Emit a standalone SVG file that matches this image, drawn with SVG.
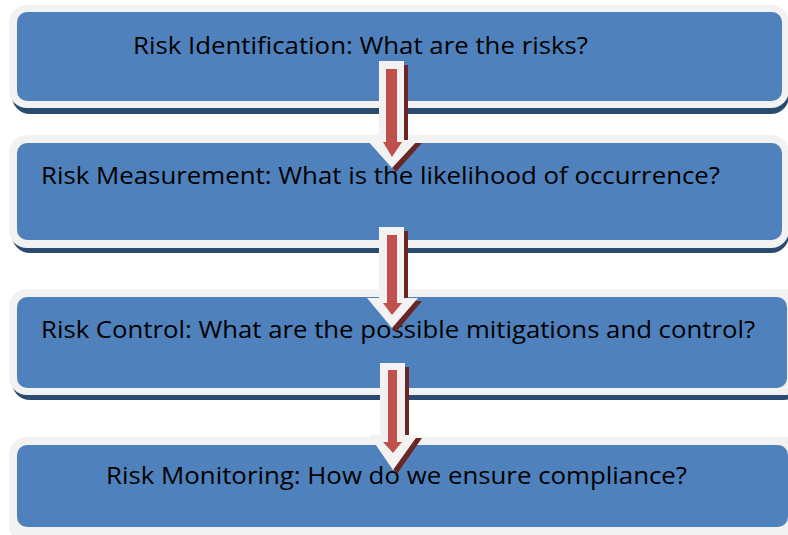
<svg xmlns="http://www.w3.org/2000/svg" width="788" height="535" viewBox="0 0 788 535">
<style>
.sh{fill:#2b4a70}
.ring{fill:#f2f2f2}
.body{fill:#4f81bd}
.lbl{font-family:"Open Sans","Noto Sans","Liberation Sans",sans-serif;font-size:24px;fill:#000}
.aw{fill:#f2f2f2}
.ar{fill:#c0504d}
.ad{fill:#6a2624}
</style>
<rect width="788" height="535" fill="#fff"/>
<g id="node1">
<rect class="sh" x="12" y="11" width="777" height="103" rx="18"/>
<rect class="ring" x="9" y="5" width="780" height="103" rx="18"/>
<rect class="body" x="17" y="12" width="765" height="89" rx="10"/>
<text class="lbl" x="133" y="54" textLength="455" lengthAdjust="spacingAndGlyphs">Risk Identification: What are the risks?</text>
</g>
<g id="node2">
<rect class="sh" x="12" y="141" width="777" height="112" rx="18"/>
<rect class="ring" x="9" y="135" width="780" height="113" rx="18"/>
<rect class="body" x="17" y="143" width="765" height="97" rx="10"/>
<text class="lbl" x="41" y="184" textLength="679" lengthAdjust="spacingAndGlyphs">Risk Measurement: What is the likelihood of occurrence?</text>
</g>
<g id="node3">
<rect class="sh" x="12" y="295" width="790" height="105" rx="18"/>
<rect class="ring" x="9" y="289" width="794" height="106" rx="18"/>
<rect class="body" x="17" y="297" width="770" height="91" rx="10"/>
<text class="lbl" x="41" y="338" textLength="714" lengthAdjust="spacingAndGlyphs">Risk Control: What are the possible mitigations and control?</text>
</g>
<g id="node4">
<rect class="sh" x="12" y="443" width="790" height="105" rx="18"/>
<rect class="ring" x="9" y="437" width="794" height="106" rx="18"/>
<rect class="body" x="17" y="445" width="771" height="82" rx="10"/>
<text class="lbl" x="106" y="484" textLength="581" lengthAdjust="spacingAndGlyphs">Risk Monitoring: How do we ensure compliance?</text>
</g>
<g id="connectors">
<g id="arrow1">
<polygon class="ad" points="383,65 408,65 408,143 422,143 396,172 371,143 383,143"/>
<polygon class="aw" points="379,61 404,61 404,140 418,140 392,168 367,140 379,140"/>
<polygon class="ar" points="386,69 397,69 397,142 402,142 392,157 383,142 386,142"/>
</g>
<g id="arrow2">
<polygon class="ad" points="383,231 408,231 408,301 422,301 396,332 371,301 383,301"/>
<polygon class="aw" points="379,227 404,227 404,298 418,298 392,328 367,298 379,298"/>
<polygon class="ar" points="387,235 397,235 397,303 402,303 392,315 383,303 387,303"/>
</g>
<g id="arrow3">
<polygon class="ad" points="384,367 409,367 409,438 422,438 397,474 373,438 384,438"/>
<polygon class="aw" points="380,363 405,363 405,435 418,435 393,470 369,435 380,435"/>
<polygon class="ar" points="388,370 397,370 397,442 402,442 393,453 383,442 388,442"/>
</g>
</g>
</svg>
